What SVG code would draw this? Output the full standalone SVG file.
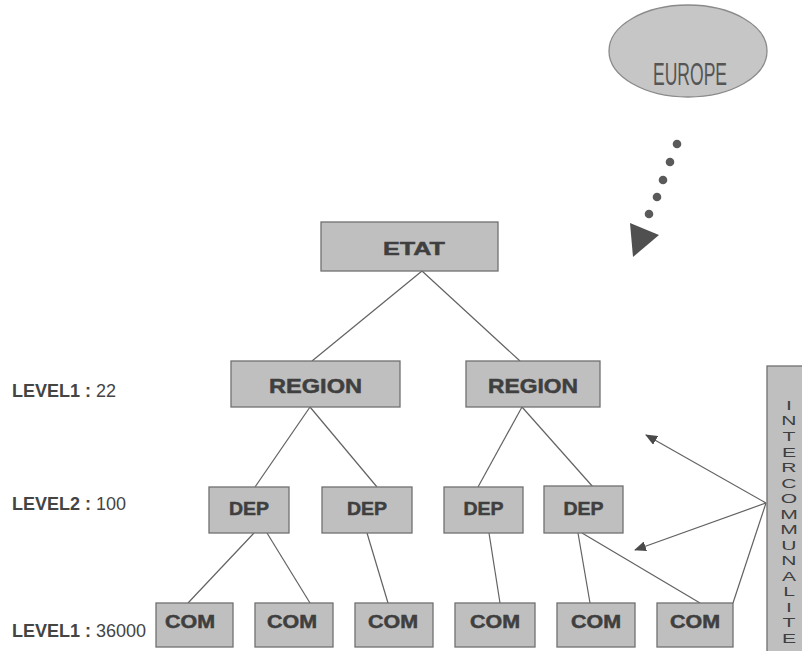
<svg xmlns="http://www.w3.org/2000/svg" width="802" height="651" viewBox="0 0 802 651">
<defs>
<style>
.box{fill:#bfbfbf;stroke:#707070;stroke-width:1.3}
.lbl{font-family:"Liberation Sans",Arial,sans-serif;font-weight:bold;fill:#3f3f3f;text-anchor:middle;stroke:#3f3f3f;stroke-width:0.5}
.lvl{font-family:"Liberation Sans",Arial,sans-serif;font-size:18px;fill:#444}
.lvl .b{font-weight:bold}
.con{stroke:#626262;stroke-width:1.2;fill:none}
.dot{fill:#5a5a5a}
</style>
<marker id="ah" viewBox="0 0 12 10" refX="11" refY="5" markerWidth="12" markerHeight="10" markerUnits="userSpaceOnUse" orient="auto">
<path d="M0,0 L12,5 L0,10 Z" fill="#4a4a4a"/>
</marker>
</defs>
<rect width="802" height="651" fill="#ffffff"/>

<g id="connectors">
<line class="con" x1="422" y1="271" x2="312" y2="361"/>
<line class="con" x1="422" y1="271" x2="520" y2="361"/>
<line class="con" x1="310" y1="407" x2="255" y2="487"/>
<line class="con" x1="310" y1="407" x2="377" y2="487"/>
<line class="con" x1="522" y1="407" x2="478" y2="487"/>
<line class="con" x1="522" y1="407" x2="593" y2="487"/>
<line class="con" x1="254" y1="533" x2="188" y2="603"/>
<line class="con" x1="267" y1="533" x2="310" y2="603"/>
<line class="con" x1="367" y1="533" x2="388" y2="603"/>
<line class="con" x1="489" y1="533" x2="500" y2="603"/>
<line class="con" x1="578" y1="533" x2="590" y2="603"/>
<line class="con" x1="582" y1="533" x2="700" y2="603"/>
<line class="con" x1="766" y1="503" x2="733" y2="603"/>
<line class="con" x1="766" y1="503" x2="646" y2="435" marker-end="url(#ah)"/>
<line class="con" x1="766" y1="503" x2="635" y2="550" marker-end="url(#ah)"/>
<g id="europe-arrow">
<circle class="dot" cx="677" cy="144" r="4.3"/>
<circle class="dot" cx="670" cy="162" r="4.3"/>
<circle class="dot" cx="663" cy="180" r="4.3"/>
<circle class="dot" cx="657" cy="197" r="4.3"/>
<circle class="dot" cx="649" cy="214" r="4.3"/>
<path d="M630,223 L659,235 L633,257 Z" fill="#505050"/>
</g>
</g>

<g id="europe">
<ellipse cx="688" cy="51" rx="79" ry="46" fill="#c6c6c6" stroke="#8a8a8a" stroke-width="1.3"/>
<text x="690" y="85" font-family="'Liberation Sans Narrow','Liberation Sans',Arial,sans-serif" font-size="32" fill="#555" text-anchor="middle" textLength="74" lengthAdjust="spacingAndGlyphs">EUROPE</text>
</g>

<g id="etat">
<rect class="box" x="321" y="222" width="177" height="49"/>
<text class="lbl" x="414" y="255" font-size="19" textLength="62" lengthAdjust="spacingAndGlyphs">ETAT</text>
</g>

<g id="region1">
<rect class="box" x="231" y="361" width="169" height="46"/>
<text class="lbl" x="315.5" y="393" font-size="20" textLength="93" lengthAdjust="spacingAndGlyphs">REGION</text>
</g>
<g id="region2">
<rect class="box" x="466" y="361" width="134" height="46"/>
<text class="lbl" x="533" y="393" font-size="20" textLength="90" lengthAdjust="spacingAndGlyphs">REGION</text>
</g>

<g id="dep1">
<rect class="box" x="209" y="487" width="80" height="46"/>
<text class="lbl" x="249" y="515" font-size="18" textLength="40" lengthAdjust="spacingAndGlyphs">DEP</text>
</g>
<g id="dep2">
<rect class="box" x="322" y="487" width="90" height="46"/>
<text class="lbl" x="367" y="515" font-size="18" textLength="40" lengthAdjust="spacingAndGlyphs">DEP</text>
</g>
<g id="dep3">
<rect class="box" x="444" y="487" width="79" height="46"/>
<text class="lbl" x="483.5" y="515" font-size="18" textLength="40" lengthAdjust="spacingAndGlyphs">DEP</text>
</g>
<g id="dep4">
<rect class="box" x="544" y="486" width="79" height="47"/>
<text class="lbl" x="583.5" y="515" font-size="18" textLength="40" lengthAdjust="spacingAndGlyphs">DEP</text>
</g>

<g id="com1">
<rect class="box" x="156" y="603" width="77" height="44"/>
<text class="lbl" x="190" y="628" font-size="18" textLength="50" lengthAdjust="spacingAndGlyphs">COM</text>
</g>
<g id="com2">
<rect class="box" x="255" y="603" width="78" height="44"/>
<text class="lbl" x="292" y="628" font-size="18" textLength="50" lengthAdjust="spacingAndGlyphs">COM</text>
</g>
<g id="com3">
<rect class="box" x="355" y="603" width="78" height="44"/>
<text class="lbl" x="393" y="628" font-size="18" textLength="50" lengthAdjust="spacingAndGlyphs">COM</text>
</g>
<g id="com4">
<rect class="box" x="455" y="603" width="80" height="44"/>
<text class="lbl" x="495" y="628" font-size="18" textLength="50" lengthAdjust="spacingAndGlyphs">COM</text>
</g>
<g id="com5">
<rect class="box" x="557" y="603" width="78" height="44"/>
<text class="lbl" x="596" y="628" font-size="18" textLength="50" lengthAdjust="spacingAndGlyphs">COM</text>
</g>
<g id="com6">
<rect class="box" x="657" y="603" width="76" height="44"/>
<text class="lbl" x="695" y="628" font-size="18" textLength="50" lengthAdjust="spacingAndGlyphs">COM</text>
</g>

<g id="intercommunalite">
<rect class="box" x="767" y="366" width="40" height="290"/>
<g transform="translate(789,0) scale(1.6,1)">
<text font-family="'Liberation Sans',Arial,sans-serif" font-size="13.2" fill="#3f3f3f" text-anchor="middle"><tspan x="0" y="410">I</tspan><tspan x="0" y="425.5">N</tspan><tspan x="0" y="441.1">T</tspan><tspan x="0" y="456.6">E</tspan><tspan x="0" y="472.1">R</tspan><tspan x="0" y="487.7">C</tspan><tspan x="0" y="503.2">O</tspan><tspan x="0" y="518.7">M</tspan><tspan x="0" y="534.2">M</tspan><tspan x="0" y="549.8">U</tspan><tspan x="0" y="565.3">N</tspan><tspan x="0" y="580.8">A</tspan><tspan x="0" y="596.4">L</tspan><tspan x="0" y="611.9">I</tspan><tspan x="0" y="627.4">T</tspan><tspan x="0" y="643">E</tspan></text>
</g>
</g>

<g id="levels">
<text class="lvl" x="12" y="397"><tspan class="b">LEVEL1 :</tspan> 22</text>
<text class="lvl" x="12" y="510"><tspan class="b">LEVEL2 :</tspan> 100</text>
<text class="lvl" x="12" y="637"><tspan class="b">LEVEL1 :</tspan> 36000</text>
</g>
</svg>
